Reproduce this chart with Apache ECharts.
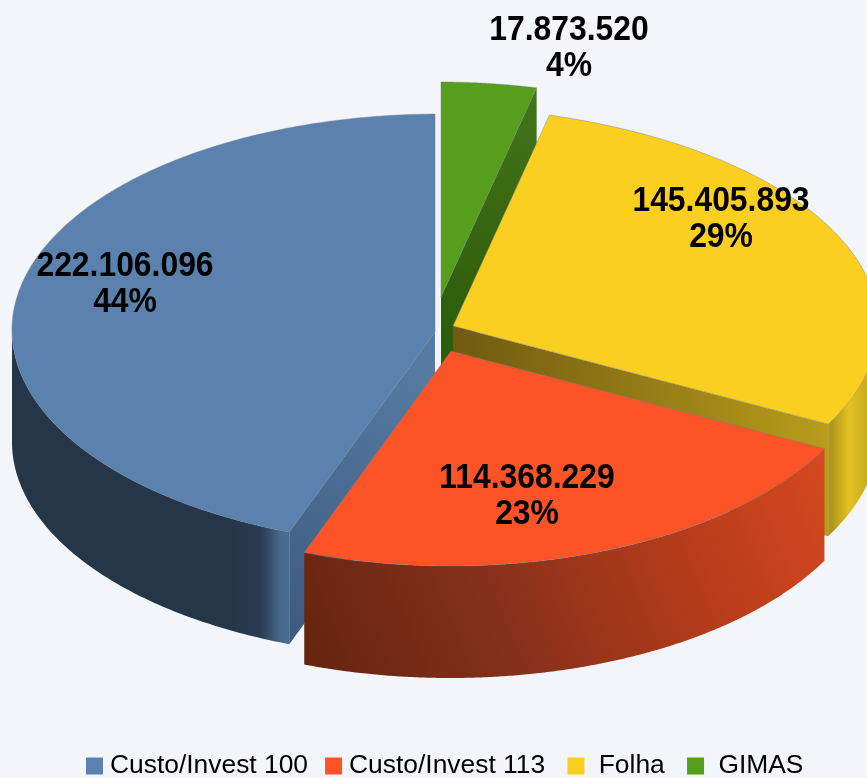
<!DOCTYPE html>
<html>
<head>
<meta charset="utf-8">
<title>Custo/Invest</title>
<script src="https://cdn.jsdelivr.net/npm/echarts@6/dist/echarts.min.js"></script>
<style>
  html, body { margin: 0; padding: 0; background: #f2f5fa; }
  #chart { width: 867px; height: 778px; }
</style>
</head>
<body>
<div id="chart"></div>
<script>
// 数据
var categories = ["Custo/Invest 100", "Custo/Invest 113", "Folha", "GIMAS"];
var values = [222106096, 114368229, 145405893, 17873520];

// 颜色
var topColors = ["#5b82ae", "#fd5427", "#fbcf20", "#579e1c"];
function grad(x, y, x2, y2, stops) {
  return {
    type: "linear", x: x, y: y, x2: x2, y2: y2, global: true,
    colorStops: stops.map(function (c) {
      return { offset: c[0], color: c[1] };
    })
  };
}
var rimFills = [
  grad(12, 0, 289, 0, [[0, "#263649"], [0.8, "#263649"], [0.9, "#2a3c52"], [0.97, "#48688e"], [1, "#4a6a90"]]),
  grad(305, 665, 823, 450, [[0, "#65240f"], [0.35, "#85301a"], [0.7, "#b53c1a"], [1, "#d64820"]]),
  grad(827, 0, 867, 0, [[0, "#a8901b"], [0.15, "#b39a1c"], [0.55, "#e3c120"], [1, "#c9ac1e"]]),
  "#3f6e14"
];
var cutFills = [
  grad(289, 620, 435, 380, [[0, "#3f5c80"], [1, "#567aa2"]]),
  "#a23a1a",
  grad(453, 0, 827, 0, [[0, "#6f5a10"], [1, "#b89c1a"]]),
  grad(0, 87, 0, 400, [[0, "#44751a"], [0.5, "#36640f"], [1, "#265a0a"]])
];

// 每块的位置(顶点 / 椭圆中心),炸开后不是同一个中心
var apexes = [[435, 332], [451, 351], [453, 326], [441, 297]];
var centers = [[440, 330], [450, 345], [418, 325], [439, 302]];
var radiiX = [428, 424, 460, 426];
var radiiY = [216, 221, 219, 220];
var depth = 112;
var tilt = 2; // 椭圆的横纵比例
var paintOrder = [3, 5, 4, 2];

// 标签
var labelPos = [[125, 266], [527, 478], [721, 201], [569, 30]];
var labelGap = 36;
var legendPad = ["", "", " ", " "];
var legendTail = ["", "\u2009", "\u2009", ""];

var total = values.reduce(function (a, b) { return a + b; }, 0);

function formatNum(v) {
  return String(v).replace(/\B(?=(\d{3})+(?!\d))/g, ".");
}

// 从顶点沿角度方向射线与椭圆求交
function rimPoint(i, deg) {
  var r = deg * Math.PI / 180;
  var dx = tilt * Math.cos(r);
  var dy = -Math.sin(r);
  var ox = apexes[i][0] - centers[i][0];
  var oy = apexes[i][1] - centers[i][1];
  var a = radiiX[i], b = radiiY[i];
  var A = dx * dx / (a * a) + dy * dy / (b * b);
  var B = 2 * (ox * dx / (a * a) + oy * dy / (b * b));
  var C = ox * ox / (a * a) + oy * oy / (b * b) - 1;
  var t = (-B + Math.sqrt(B * B - 4 * A * C)) / (2 * A);
  return [apexes[i][0] + t * dx, apexes[i][1] + t * dy];
}

function shifted(pts) {
  return pts.map(function (p) { return [p[0], p[1] + depth]; });
}

function poly(pts, fill, extra) {
  return {
    type: "polygon",
    shape: { points: pts },
    style: Object.assign({ fill: fill }, extra || {})
  };
}

function makeRender(i, startDeg, endDeg) {
  return function (params, api) {
    var steps = 240;
    var arc = [];
    for (var s = 0; s <= steps; s++) {
      arc.push(rimPoint(i, startDeg + (endDeg - startDeg) * s / steps));
    }
    var apex = apexes[i];
    var children = [];

    // 外侧面,只要椭圆下半圈
    var front = arc.filter(function (p) { return p[1] >= centers[i][1]; });
    if (front.length > 1) {
      children.push(poly(front.concat(shifted(front).reverse()), rimFills[i]));
    }

    // 切面,朝向观察者的才画
    var startVisible = Math.sin((startDeg - 90) * Math.PI / 180) < -1e-6;
    var endVisible = Math.sin((endDeg + 90) * Math.PI / 180) < -1e-6;
    if (startVisible) {
      var p0 = arc[0];
      children.push(poly([apex, p0, [p0[0], p0[1] + depth], [apex[0], apex[1] + depth]], cutFills[i]));
    }
    if (endVisible) {
      var p1 = arc[steps];
      children.push(poly([apex, p1, [p1[0], p1[1] + depth], [apex[0], apex[1] + depth]], cutFills[i]));
    }

    // 顶面
    children.push(poly([apex].concat(arc), api.visual("color"), {
      stroke: "rgba(110,125,140,0.55)",
      lineWidth: 0.8
    }));

    // 标签
    var lines = [formatNum(api.value(0)), Math.round(api.value(0) / total * 100) + "%"];
    lines.forEach(function (txt, n) {
      children.push({
        type: "text",
        x: labelPos[i][0],
        y: labelPos[i][1] + n * labelGap,
        scaleX: 0.91,
        z2: 100,
        style: {
          text: txt,
          fill: "#000",
          font: 'bold 35px "Liberation Sans"',
          align: "center",
          verticalAlign: "middle"
        }
      });
    });

    return { type: "group", children: children };
  };
}

var series = [];
var angle = 90;
categories.forEach(function (name, i) {
  var sweep = values[i] / total * 360;
  series.push({
    name: name,
    type: "custom",
    coordinateSystem: "none",
    z: paintOrder[i],
    itemStyle: { color: topColors[i] },
    data: [[values[i]]],
    renderItem: makeRender(i, angle, angle + sweep)
  });
  angle += sweep;
});

var myEchart = echarts.init(document.getElementById("chart"));
myEchart.setOption({
  animation: false,
  backgroundColor: "#f2f5fa",
  legend: {
    left: 81,
    top: 748,
    icon: "rect",
    itemWidth: 17,
    itemHeight: 17,
    itemGap: 17,
    data: categories,
    formatter: function (name) {
      var i = categories.indexOf(name);
      return legendPad[i] + name + legendTail[i];
    },
    textStyle: {
      color: "#000",
      fontFamily: "Liberation Sans",
      fontSize: 26.4,
      padding: [0, 0, 0, 2]
    }
  },
  series: series
});
</script>
</body>
</html>
